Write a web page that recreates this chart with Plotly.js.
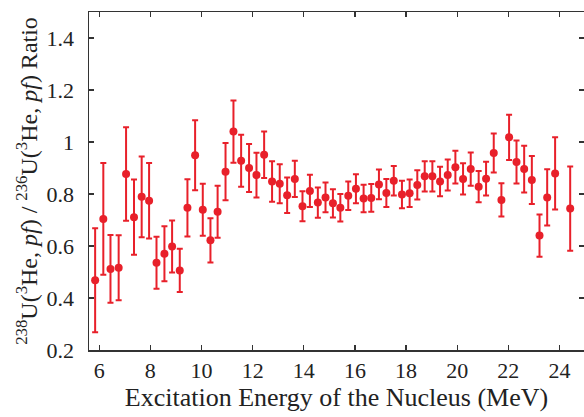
<!DOCTYPE html>
<html>
<head>
<meta charset="utf-8">
<script src="https://cdn.plot.ly/plotly-3.0.1.min.js"></script>
<style>html,body{margin:0;padding:0;background:#fff;}#chart{width:584px;height:417px;}</style>
</head>
<body>
<div id="chart"></div>
<script>
const energy = [5.84,6.16,6.44,6.76,7.05,7.36,7.66,7.95,8.24,8.55,
  8.85,9.15,9.45,9.75,10.05,10.35,10.63,10.94,11.25,11.55,
  11.86,12.15,12.45,12.76,13.06,13.35,13.65,13.95,14.24,14.55,
  14.85,15.14,15.43,15.74,16.04,16.34,16.64,16.94,17.23,17.52,
  17.84,18.14,18.44,18.73,19.03,19.33,19.63,19.93,20.23,20.53,
  20.84,21.13,21.43,21.73,22.03,22.32,22.62,22.92,23.22,23.52,
  23.83,24.42];
const ratio = [0.468,0.704,0.512,0.516,0.877,0.711,0.789,0.774,0.536,0.570,
  0.598,0.506,0.747,0.949,0.739,0.622,0.732,0.886,1.040,0.928,
  0.900,0.873,0.951,0.848,0.839,0.795,0.858,0.753,0.812,0.767,
  0.787,0.764,0.747,0.793,0.820,0.783,0.785,0.837,0.804,0.851,
  0.798,0.803,0.835,0.868,0.868,0.848,0.873,0.903,0.858,0.896,
  0.828,0.859,0.958,0.777,1.018,0.923,0.896,0.854,0.640,0.787,
  0.879,0.744];
const ratioErr = [0.20,0.215,0.13,0.125,0.18,0.145,0.155,0.145,0.10,0.106,
  0.10,0.083,0.11,0.135,0.10,0.085,0.10,0.11,0.12,0.10,
  0.092,0.086,0.089,0.078,0.075,0.068,0.07,0.058,0.062,0.058,
  0.057,0.054,0.053,0.055,0.056,0.053,0.053,0.057,0.054,0.057,
  0.053,0.053,0.056,0.058,0.058,0.057,0.06,0.063,0.06,0.064,
  0.06,0.065,0.075,0.064,0.087,0.083,0.09,0.092,0.081,0.108,
  0.139,0.162];
const xTitle = 'Excitation Energy of the Nucleus (MeV)';
const yTitle = '<sup>238</sup>U(<sup>3</sup>He, <i>pf</i>) / <sup>236</sup>U(<sup>3</sup>He, <i>pf</i>) Ratio';

const red = '#e8202a';
const trace = {
  x: energy, y: ratio, type: 'scatter', mode: 'markers',
  marker: {color: red, size: 8},
  error_y: {type: 'data', array: ratioErr, visible: true, color: red, thickness: 2, width: 3},
  showlegend: false
};
const fontFam = 'Liberation Serif, serif';
const axisCommon = {
  showgrid: false, zeroline: false, showline: true, linecolor: '#333', linewidth: 1.5,
  mirror: 'ticks', ticks: 'inside', ticklen: 5, tickwidth: 1.2, tickcolor: '#333',
  tickfont: {family: fontFam, size: 22, color: '#222'}
};
const layout = {
  width: 584, height: 417,
  margin: {l: 89, r: 0, t: 12, b: 67},
  paper_bgcolor: '#fff', plot_bgcolor: '#fff',
  font: {family: fontFam, color: '#222'},
  xaxis: Object.assign({}, axisCommon, {
    range: [5.6, 24.96], tick0: 0, dtick: 2, ticklabelstandoff: 0,
    title: {text: xTitle, font: {family: fontFam, size: 26, color: '#222'}, standoff: 0}
  }),
  yaxis: Object.assign({}, axisCommon, {
    range: [0.2, 1.5], tick0: 0, dtick: 0.2, ticklabelstandoff: 9,
    title: {text: yTitle, font: {family: fontFam, size: 24, color: '#222'}, standoff: 2}
  })
};
Plotly.newPlot('chart', [trace], layout, {staticPlot: true, displayModeBar: false});
</script>
</body>
</html>
